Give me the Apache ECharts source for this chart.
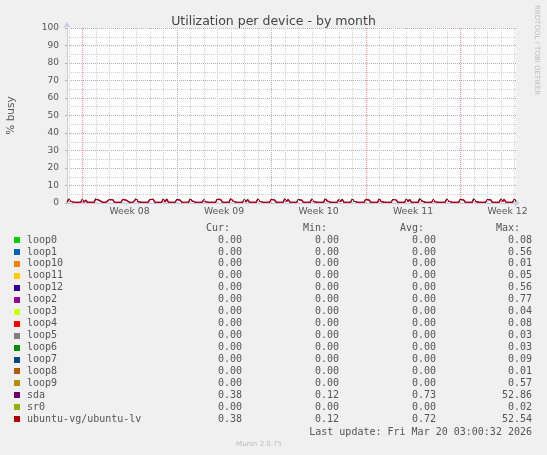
<!DOCTYPE html>
<html><head><meta charset="utf-8">
<script src="https://cdn.jsdelivr.net/npm/echarts@6/dist/echarts.min.js"></script>
<style>html,body{margin:0;padding:0;background:#f0f0f0;}#c{width:547px;height:455px;}</style>
</head><body><div id="c"></div><script>
// ---- legend table ----
const deviceNames = ['loop0','loop1','loop10','loop11','loop12','loop2','loop3','loop4','loop5','loop6','loop7','loop8','loop9','sda','sr0','ubuntu-vg/ubuntu-lv'];
const deviceColors = ['#00CC00','#0066B3','#FF8000','#FFCC00','#330099','#990099','#CCFF00','#FF0000','#808080','#008F00','#00487D','#B35A00','#B38F00','#6B006B','#8FB300','#B30000'];
const curValues = ['0.00','0.00','0.00','0.00','0.00','0.00','0.00','0.00','0.00','0.00','0.00','0.00','0.00','0.38','0.00','0.38'];
const minValues = ['0.00','0.00','0.00','0.00','0.00','0.00','0.00','0.00','0.00','0.00','0.00','0.00','0.00','0.12','0.00','0.12'];
const avgValues = ['0.00','0.00','0.00','0.00','0.00','0.00','0.00','0.00','0.00','0.00','0.00','0.00','0.00','0.73','0.00','0.72'];
const maxValues = ['0.08','0.56','0.01','0.05','0.56','0.77','0.04','0.08','0.03','0.03','0.09','0.01','0.57','52.86','0.02','52.54'];
const columnHeaders = ['Cur:','Min:','Avg:','Max:'];

// ---- x axis (days relative to Mon 16 Feb 00:00) ----
const xMinDay = -1.13;
const xMaxDay = 32.125;
const weekLabels = ['Week 08','Week 09','Week 10','Week 11','Week 12'];
const weekLabelDays = [3.5,10.5,17.5,24.5,31.5];
const weekStartDays = [0,7,14,21,28];
const dayStartDays = [-1,1,2,3,4,5,6,8,9,10,11,12,13,15,16,17,18,19,20,22,23,24,25,26,27,29,30,31,32];

// ---- series (3-hour samples starting Sat 14 Feb 21:00) ----
const sampleStartDay = -1.125;
const sampleStepDays = 0.125;
const ubuntuLvBusy = [0.4,
2.2,1.0,1.8,0.4,0.4,0.4,0.4,0.4,
1.9,0.5,1.7,0.4,0.3,0.4,0.4,0.4,
2.4,1.3,1.5,0.4,0.4,0.4,0.4,0.4,
1.8,0.9,2.0,0.5,0.4,0.4,0.4,0.4,
2.1,1.4,1.6,0.5,0.4,0.3,0.4,0.4,
2.5,0.8,1.9,0.4,0.4,0.4,0.3,0.4,
2.0,1.1,2.1,0.4,0.4,0.4,0.4,0.4,
2.3,0.6,2.2,0.5,0.4,0.4,0.4,0.4,
2.0,1.0,1.6,0.4,0.4,0.4,0.4,0.4,
2.4,1.2,1.8,0.4,0.4,0.4,0.4,0.4,
1.9,0.7,1.7,0.4,0.4,0.4,0.4,0.4,
2.2,1.1,1.9,0.5,0.4,0.4,0.4,0.4,
2.6,1.3,1.5,0.4,0.4,0.4,0.4,0.4,
2.0,0.6,2.0,0.4,0.4,0.4,0.4,0.4,
2.3,1.0,1.8,0.4,0.4,0.4,0.4,0.4,
2.1,1.2,1.7,0.4,0.4,0.4,0.4,0.4,
2.4,0.8,2.0,0.5,0.4,0.4,0.4,0.4,
1.9,1.1,1.6,0.4,0.4,0.4,0.4,0.4,
2.2,0.9,1.9,0.4,0.4,0.4,0.4,0.4,
2.5,1.2,1.7,0.4,0.4,0.4,0.4,0.4,
2.0,0.7,2.1,0.4,0.4,0.4,0.4,0.4,
2.3,1.0,1.8,0.5,0.4,0.4,0.4,0.4,
2.1,1.3,1.6,0.4,0.4,0.4,0.4,0.4,
2.4,0.9,1.9,0.4,0.4,0.4,0.4,0.4,
2.0,1.1,1.7,0.4,0.4,0.4,0.4,0.4,
2.2,0.8,2.0,0.4,0.4,0.4,0.4,0.4,
2.5,1.2,1.8,0.5,0.4,0.4,0.4,0.4,
1.9,0.7,1.6,0.4,0.4,0.4,0.4,0.4,
2.3,1.0,2.1,0.4,0.4,0.4,0.4,0.4,
2.1,1.3,1.7,0.4,0.4,0.4,0.4,0.4,
2.4,0.9,1.9,0.4,0.4,0.4,0.4,0.4,
2.0,1.1,1.8,0.4,0.4,0.4,0.4,0.4,
2.2,0.8,2.0,0.5,0.4,0.4,0.4,0.4,
2.3,0.9];
const sdaBusy = [0.4,
2.2,1.0,1.8,0.4,0.4,0.4,0.4,0.4,
1.9,0.5,1.7,0.4,0.3,0.4,0.4,0.4,
2.4,1.3,1.5,0.4,0.4,0.4,0.4,0.4,
1.8,0.9,2.0,0.5,0.4,0.4,0.4,0.4,
2.1,1.4,1.6,0.5,0.4,0.3,0.4,0.4,
2.5,0.8,1.9,0.4,0.4,0.4,0.3,0.4,
2.0,1.1,2.1,0.4,0.4,0.4,0.4,0.4,
2.3,0.6,2.2,0.5,0.4,0.4,0.4,0.4,
2.0,1.0,1.6,0.4,0.4,0.4,0.4,0.4,
2.4,1.2,1.8,0.4,0.4,0.4,0.4,0.4,
1.9,0.7,1.7,0.4,0.4,0.4,0.4,0.4,
2.2,1.1,1.9,0.5,0.4,0.4,0.4,0.4,
2.6,1.3,1.5,0.4,0.4,0.4,0.4,0.4,
2.0,0.6,2.0,0.4,0.4,0.4,0.4,0.4,
2.3,1.0,1.8,0.4,0.4,0.4,0.4,0.4,
2.1,1.2,1.7,0.4,0.4,0.4,0.4,0.4,
2.4,0.8,2.0,0.5,0.4,0.4,0.4,0.4,
1.9,1.1,1.6,0.4,0.4,0.4,0.4,0.4,
2.2,0.9,1.9,0.4,0.4,0.4,0.4,0.4,
2.5,1.2,1.7,0.4,0.4,0.4,0.4,0.4,
2.0,0.7,2.1,0.4,0.4,0.4,0.4,0.4,
2.3,1.0,1.8,0.5,0.4,0.4,0.4,0.4,
2.1,1.3,1.6,0.4,0.4,0.4,0.4,0.4,
2.4,0.9,1.9,0.4,0.4,0.4,0.4,0.4,
2.0,1.1,1.7,0.4,0.4,0.4,0.4,0.4,
2.2,0.8,2.0,0.4,0.4,0.4,0.4,0.4,
2.5,1.2,1.8,0.5,0.4,0.4,0.4,0.4,
1.9,0.7,1.6,0.4,0.4,0.4,0.4,0.4,
2.3,1.0,2.1,0.4,0.4,0.4,0.4,0.4,
2.1,1.3,1.7,0.4,0.4,0.4,0.4,0.4,
2.4,0.9,1.9,0.4,0.4,0.4,0.4,0.4,
2.0,1.1,1.8,0.4,0.4,0.4,0.4,0.4,
2.2,0.8,2.0,0.5,0.4,0.4,0.4,0.4,
2.3,0.9];

const chart = echarts.init(document.getElementById('c'), null, {renderer:'canvas'});
const mono = 'DejaVu Sans Mono';
const sans = 'DejaVu Sans';
const minorGrid = '#d0d0d0';
const majorGrid = '#e89898';
const axisCol = '#c8cbe8';

const toPoints = arr => arr.map((v,i)=>[sampleStartDay + i*sampleStepDays, v]);

const graphics = [];
const rowY0 = 240, rowDY = 11.95;
const colRight = [242, 339, 436, 532];
columnHeaders.forEach((h,j)=>{
  graphics.push({type:'text', x:colRight[j]-12, y:228, style:{text:h, font:'10px '+mono, fill:'#555', align:'right', verticalAlign:'middle'}});
});
deviceNames.forEach((n,i)=>{
  const y = rowY0 + i*rowDY;
  graphics.push({type:'rect', shape:{x:14, y:Math.round(y)-3, width:6, height:6}, style:{fill:deviceColors[i]}});
  graphics.push({type:'text', x:27, y:y, style:{text:n, font:'10px '+mono, fill:'#555', align:'left', verticalAlign:'middle'}});
  [curValues, minValues, avgValues, maxValues].forEach((col,j)=>{
    graphics.push({type:'text', x:colRight[j], y:y, style:{text:col[i], font:'10px '+mono, fill:'#555', align:'right', verticalAlign:'middle'}});
  });
});
graphics.push({type:'text', x:532, y:432, style:{text:'Last update: Fri Mar 20 03:00:32 2026', font:'10px '+mono, fill:'#555', align:'right', verticalAlign:'middle'}});
graphics.push({type:'text', x:259, y:444, style:{text:'Munin 2.0.75', font:'7px '+sans, fill:'#bbbbbb', align:'center', verticalAlign:'middle'}});
graphics.push({type:'text', x:537, y:5, rotation:-Math.PI/2, style:{text:'RRDTOOL / TOBI OETIKER', font:'7px '+sans, fill:'#bdbdbd', align:'left', verticalAlign:'middle'}});

const vGrid = (days, color) => ({
  type:'line', data:[], silent:true, z:1,
  markLine:{silent:true, symbol:['none','none'], label:{show:false},
    lineStyle:{color:color, type:[1,1], width:1},
    emphasis:{disabled:true},
    data:days.map(d=>({xAxis:d}))}
});

chart.setOption({
  backgroundColor:'#f0f0f0',
  animation:false,
  title:{text:'Utilization per device - by month', left:'center', top:10,
    textStyle:{fontFamily:sans, fontSize:12.5, fontWeight:'normal', color:'#444'}},
  grid:{left:67, right:31, top:28, bottom:252, backgroundColor:'#ffffff', show:true, borderWidth:0,
    containLabel:false, outerBoundsMode:'none'},
  xAxis:{
    type:'value', min:xMinDay, max:xMaxDay,
    axisLine:{show:true, onZero:false, lineStyle:{color:axisCol, width:1}, symbol:['none','arrow'], symbolSize:[6,6], symbolOffset:[0,4]},
    axisTick:{show:false},
    splitLine:{show:false},
    axisLabel:{show:true, customValues:weekLabelDays, margin:4, color:'#555', fontFamily:sans, fontSize:9.3,
      formatter:v=>{const k=weekLabelDays.indexOf(v); return k>=0?weekLabels[k]:'';}}
  },
  yAxis:{
    type:'value', min:0, max:100, interval:10,
    name:'% busy', nameLocation:'middle', nameRotate:90, nameGap:50,
    nameTextStyle:{fontFamily:sans, fontSize:10.5, color:'#555'},
    axisLine:{show:true, onZero:false, lineStyle:{color:axisCol, width:1}, symbol:['none','arrow'], symbolSize:[6,6], symbolOffset:[0,6]},
    axisTick:{show:true, length:2, lineStyle:{color:majorGrid}},
    minorTick:{show:false, splitNumber:2},
    minorSplitLine:{show:true, lineStyle:{color:minorGrid, type:[1,1], width:1}},
    splitLine:{show:true, lineStyle:{color:majorGrid, type:[1,1], width:1}},
    axisLabel:{color:'#555', fontFamily:sans, fontSize:9, margin:8}
  },
  series:[
    vGrid(dayStartDays, minorGrid),
    vGrid(weekStartDays, majorGrid),
    {name:'sda', type:'line', data:toPoints(sdaBusy), showSymbol:false, lineStyle:{color:'#6B006B', width:1.2}, itemStyle:{color:'#6B006B'}, z:3},
    {name:'ubuntu-vg/ubuntu-lv', type:'line', data:toPoints(ubuntuLvBusy), showSymbol:false, lineStyle:{color:'#B30000', width:1.2}, itemStyle:{color:'#B30000'}, z:4}
  ],
  graphic:graphics
});
</script></body></html>
